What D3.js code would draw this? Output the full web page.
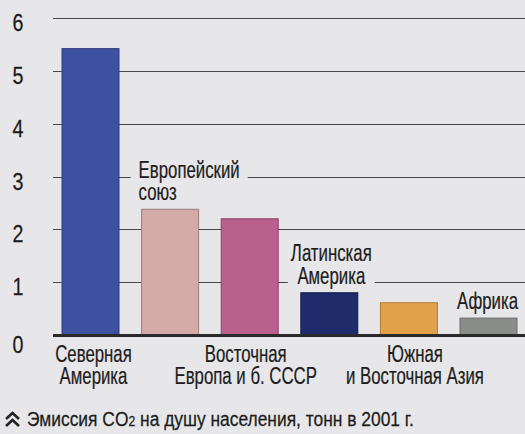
<!DOCTYPE html>
<html>
<head>
<meta charset="utf-8">
<script src="https://cdn.jsdelivr.net/npm/d3@7"></script>
<style>
  html, body { margin: 0; padding: 0; background: #e7e7e9; }
  svg { display: block; }
  text { font-family: "Liberation Sans", Arial, sans-serif; fill: #1c1c1c; stroke: #1c1c1c; stroke-width: 0.25; }
</style>
</head>
<body>
<svg id="chart" width="525" height="434"></svg>
<script>
// ---- data ----
const categories = ["Северная Америка", "Европейский союз", "Восточная Европа и б. СССР",
                    "Латинская Америка", "Южная и Восточная Азия", "Африка"];
const values = [5.42, 2.38, 2.2, 0.8, 0.61, 0.32];
const labelLines = [["Северная", "Америка"], ["Европейский", "союз"], ["Восточная", "Европа и б. СССР"],
                    ["Латинская", "Америка"], ["Южная", "и Восточная Азия"], ["Африка"]];
const labelPlace = ["below", "above-left", "below", "above", "below", "above"];
const barColors = ["#3e50a0", "#d5aba9", "#b9608d", "#1f2b6b", "#e2a24b", "#8b8d8b"];
const barStrokes = ["#2e3c80", "#9e7c7a", "#8c4468", "#141c4c", "#b27a30", "#6a6c6a"];
const yTicks = [0, 1, 2, 3, 4, 5, 6];
const footnote = ["Эмиссия CO", "2", " на душу населения, тонн в 2001 г."];

// ---- layout ----
const svg = d3.select("#chart");
const bg = "#e7e7e9";
const NARROW = 0.7;
const x = d3.scaleBand().domain(categories).range([62, 517]).paddingInner(0.284).paddingOuter(0);
const y = d3.scaleLinear().domain([0, 6]).range([335, 18]);
const gridLeft = 53, gridRight = 525;

// narrow text helper (emulates a condensed face)
function narrowText(parent, tx, ty, size, anchor, sx) {
  const g = parent.append("g").attr("transform", `translate(${tx},${ty}) scale(${sx},1)`);
  const t = g.append("text").attr("font-size", size).attr("text-anchor", anchor);
  return { g, t };
}

// gridlines
svg.append("g").selectAll("line").data(yTicks.filter(d => d > 0)).join("line")
  .attr("x1", gridLeft).attr("x2", gridRight)
  .attr("y1", d => Math.round(y(d)) + 0.5).attr("y2", d => Math.round(y(d)) + 0.5)
  .attr("stroke", "#474747").attr("stroke-width", 1.1);

// y tick labels
const yl = svg.append("g");
yTicks.forEach(d => {
  const { t } = narrowText(yl, 18, y(d) + (d === 0 ? 18 : 13), 24, "middle", 0.82);
  t.text(d);
});

// category labels (with paper background to interrupt gridlines)
const labelsG = svg.append("g");
categories.forEach((c, i) => {
  const place = labelPlace[i];
  const lines = labelLines[i];
  const cx = x(c) + x.bandwidth() / 2;
  const lh = 22.5;
  let anchor = "middle", lx = cx, baseY;
  if (place === "below") {
    baseY = y(0) + 27;
    lx = cx + (i === 0 ? 3 : i === 2 ? -4 : 6);
  } else if (place === "above-left") {
    anchor = "start"; lx = x(c) - 3;
    baseY = y(values[i]) - 9 - (lines.length - 1) * lh;
  } else {
    lx = cx + (lines.length > 1 ? 2 : -1);
    baseY = y(values[i]) - 9 - (lines.length - 1) * lh;
  }
  const { g, t } = narrowText(labelsG, lx, baseY, 24, anchor, NARROW);
  lines.forEach((ln, k) => {
    t.append("tspan").attr("x", 0).attr("y", k * lh).text(ln);
  });
  if (place !== "below") {
    const bb = t.node().getBBox();
    const padX = (lines.length > 1 ? (anchor === "start" ? 8 : 3) : 4) / NARROW;
    g.insert("rect", "text")
      .attr("x", bb.x - padX).attr("y", bb.y)
      .attr("width", bb.width + 2 * padX).attr("height", bb.height)
      .attr("fill", bg);
  }
});

// bars
svg.append("g").selectAll("rect").data(values).join("rect")
  .attr("x", (d, i) => x(categories[i]))
  .attr("y", d => y(d))
  .attr("width", x.bandwidth())
  .attr("height", d => y(0) - y(d))
  .attr("fill", (d, i) => barColors[i])
  .attr("stroke", (d, i) => barStrokes[i]).attr("stroke-width", 1);

// baseline
svg.append("line").attr("x1", gridLeft).attr("x2", gridRight)
  .attr("y1", y(0) + 0.5).attr("y2", y(0) + 0.5)
  .attr("stroke", "#2a2a2a").attr("stroke-width", 3);

// footnote icon: double up chevron
const icon = svg.append("g").attr("fill", "none").attr("stroke", "#222").attr("stroke-width", 2.6);
icon.append("path").attr("d", "M6,419 L12.5,413 L19,419");
icon.append("path").attr("d", "M6,426 L12.5,420 L19,426");

const { t: ft } = narrowText(svg, 27, 426, 20, "start", 0.87);
ft.append("tspan").text(footnote[0]);
ft.append("tspan").attr("font-size", 14).text(footnote[1]);
ft.append("tspan").text(footnote[2]);
</script>
</body>
</html>
